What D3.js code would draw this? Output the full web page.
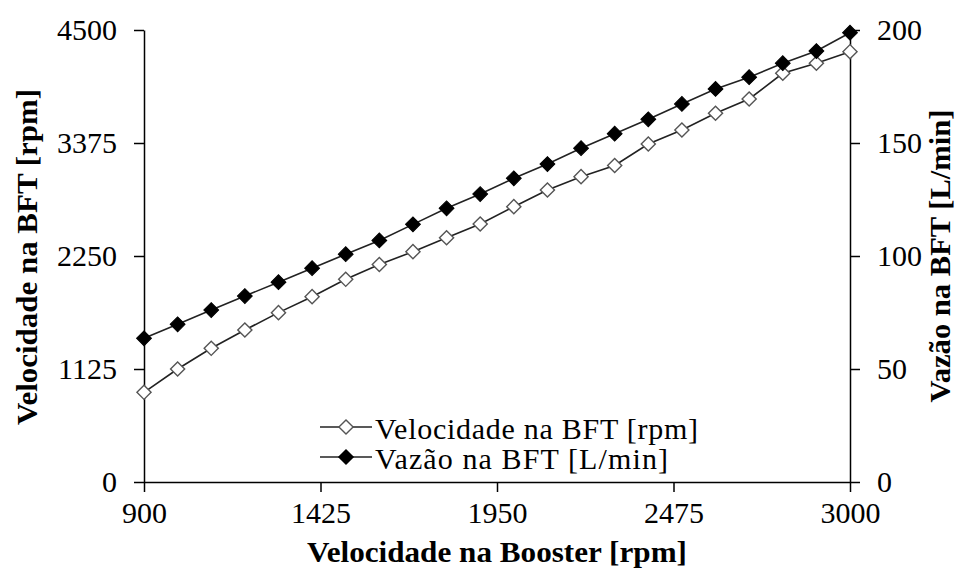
<!DOCTYPE html>
<html>
<head>
<meta charset="utf-8">
<script src="https://cdn.jsdelivr.net/npm/d3@7"></script>
<style>
html,body{margin:0;padding:0;background:#fff;}
svg text{font-family:"Liberation Serif","Times New Roman",Times,serif;}
</style>
</head>
<body>
<svg id="chart" width="959" height="569"></svg>
<script>
// Data
const boosterRpm = [900,1000,1100,1200,1300,1400,1500,1600,1700,1800,1900,2000,2100,2200,2300,2400,2500,2600,2700,2800,2900,3000];
const velocidadeBFT = [893,1125,1331,1513,1686,1845,2018,2165,2293,2432,2569,2741,2907,3040,3151,3365,3504,3671,3813,4069,4169,4284];
const vazaoBFT = [63.6,69.8,76.1,82.3,88.4,94.6,100.8,106.9,114.0,121.1,127.4,134.4,140.7,147.7,154.1,160.5,167.3,173.9,179.1,185.3,190.7,198.8];
const xTicks = [900,1425,1950,2475,3000];
const yLeftTicks = [0,1125,2250,3375,4500];
const yRightTicks = [0,50,100,150,200];
const seriesNames = ["Velocidade na BFT [rpm]","Vazão na BFT [L/min]"];

const FONT = "Liberation Serif";
const svg = d3.select("#chart");
const L = 144, R = 850, T = 30, B = 482;
const x = d3.scaleLinear().domain([900,3000]).range([L,R]);
const yL = d3.scaleLinear().domain([0,4500]).range([B,T]);
const yR = d3.scaleLinear().domain([0,200]).range([B,T]);

function styleAxis(g){
  g.attr("font-family",FONT).attr("font-size",30);
  g.select(".domain").attr("stroke","#000").attr("stroke-width",1.5);
  g.selectAll(".tick line").attr("stroke","#000").attr("stroke-width",1.5);
  g.selectAll(".tick text").attr("fill","#000").attr("font-family",FONT).attr("font-size",30);
}

svg.append("g").attr("transform",`translate(0,${B})`)
  .call(d3.axisBottom(x).tickValues(xTicks).tickSize(10).tickSizeOuter(0).tickPadding(10).tickFormat(d3.format("d")))
  .call(styleAxis);
svg.append("g").attr("transform",`translate(${L},0)`)
  .call(d3.axisLeft(yL).tickValues(yLeftTicks).tickSize(10).tickSizeOuter(0).tickPadding(17).tickFormat(d3.format("d")))
  .call(styleAxis);
svg.append("g").attr("transform",`translate(${R},0)`)
  .call(d3.axisRight(yR).tickValues(yRightTicks).tickSize(10).tickSizeOuter(0).tickPadding(17).tickFormat(d3.format("d")))
  .call(styleAxis);

const lineColor = "#222";

// Velocidade series (hollow)
const lineV = d3.line().x((d,i)=>x(boosterRpm[i])).y(d=>yL(d));
svg.append("path").datum(velocidadeBFT).attr("d",lineV).attr("fill","none").attr("stroke",lineColor).attr("stroke-width",1.6);
svg.append("g").selectAll("path").data(velocidadeBFT).join("path")
  .attr("transform",(d,i)=>`translate(${x(boosterRpm[i])},${yL(d)}) rotate(45)`)
  .attr("d",d3.symbol().type(d3.symbolSquare).size(100))
  .attr("fill","#fff").attr("stroke","#555").attr("stroke-width",1.4);

// Vazão series (filled)
const lineQ = d3.line().x((d,i)=>x(boosterRpm[i])).y(d=>yR(d));
svg.append("path").datum(vazaoBFT).attr("d",lineQ).attr("fill","none").attr("stroke",lineColor).attr("stroke-width",1.6);
svg.append("g").selectAll("path").data(vazaoBFT).join("path")
  .attr("transform",(d,i)=>`translate(${x(boosterRpm[i])},${yR(d)}) rotate(45)`)
  .attr("d",d3.symbol().type(d3.symbolSquare).size(110))
  .attr("fill","#000").attr("stroke","#000").attr("stroke-width",1);

// Legend
const leg = svg.append("g");
const legRows = [{name:seriesNames[0],fill:"#fff",stroke:"#555",y:427,len:323},{name:seriesNames[1],fill:"#000",stroke:"#000",y:457,len:293}];
legRows.forEach(r=>{
  leg.append("line").attr("x1",320).attr("x2",372).attr("y1",r.y).attr("y2",r.y).attr("stroke",lineColor).attr("stroke-width",1.6);
  leg.append("path").attr("transform",`translate(346,${r.y}) rotate(45)`).attr("d",d3.symbol().type(d3.symbolSquare).size(100))
    .attr("fill",r.fill).attr("stroke",r.stroke).attr("stroke-width",1.4);
  leg.append("text").attr("x",375).attr("y",r.y+5).attr("dominant-baseline","middle")
    .attr("textLength",r.len).attr("lengthAdjust","spacing")
    .attr("font-family",FONT).attr("font-size",30).text(r.name);
});

// Axis titles
svg.append("text").attr("x",497).attr("y",562).attr("text-anchor","middle")
  .attr("textLength",380).attr("lengthAdjust","spacingAndGlyphs")
  .attr("font-family",FONT).attr("font-size",29).attr("font-weight","bold").text("Velocidade na Booster [rpm]");
svg.append("text").attr("transform","translate(37,257) rotate(-90)").attr("text-anchor","middle")
  .attr("textLength",336).attr("lengthAdjust","spacingAndGlyphs")
  .attr("font-family",FONT).attr("font-size",29).attr("font-weight","bold").text("Velocidade na BFT [rpm]");
svg.append("text").attr("transform","translate(950,256) rotate(-90)").attr("text-anchor","middle")
  .attr("textLength",293).attr("lengthAdjust","spacingAndGlyphs")
  .attr("font-family",FONT).attr("font-size",29).attr("font-weight","bold").text("Vazão na BFT [L/min]");
</script>
</body>
</html>
